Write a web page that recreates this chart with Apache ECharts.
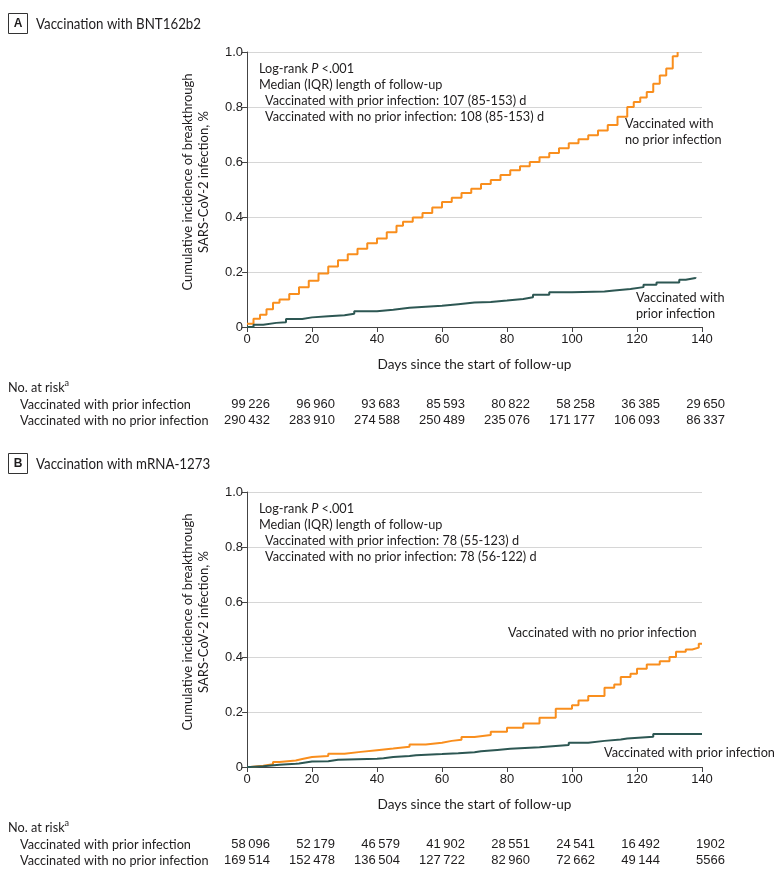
<!DOCTYPE html>
<html>
<head>
<meta charset="utf-8">
<script src="https://cdn.jsdelivr.net/npm/echarts@6/dist/echarts.min.js"></script>
<style>
html,body{margin:0;padding:0;background:#fff;}
#chart{width:780px;height:870px;}
</style>
</head>
<body>
<div id="chart"></div>
<script>
// ---------- DATA ----------
const xTicks = [0, 20, 40, 60, 80, 100, 120, 140];

// Panel A: BNT162b2 (day, cumulative incidence %)
const bntNoPrior = [[0,0.012],[2,0.03],[4,0.045],[6,0.065],[8,0.088],[10,0.1],[13,0.12],[16,0.145],[19,0.168],[22,0.195],[25,0.22],[28,0.243],[31,0.265],[34,0.285],[37,0.305],[40,0.322],[43,0.345],[46,0.368],[48,0.383],[51,0.398],[54,0.415],[57,0.435],[60,0.455],[63,0.47],[66,0.487],[69,0.503],[72,0.52],[75,0.535],[78,0.553],[81,0.57],[84,0.585],[87,0.6],[90,0.617],[93,0.633],[96,0.65],[99,0.668],[102,0.683],[105,0.697],[108,0.715],[111,0.735],[114,0.765],[117,0.8],[119,0.818],[121,0.835],[123,0.855],[125,0.885],[127,0.915],[129,0.94],[131,0.985],[132.5,1.0]];
const bntPrior = [[0,0],[2,0.008],[5,0.015],[9,0.017],[12,0.029],[17,0.035],[20,0.039],[25,0.043],[30,0.048],[33,0.057],[40,0.063],[45,0.07],[50,0.077],[60,0.083],[65,0.089],[70,0.091],[75,0.096],[80,0.102],[85,0.108],[88,0.117],[93,0.126],[100,0.129],[110,0.133],[113,0.138],[118,0.145],[122,0.154],[126,0.162],[133,0.172],[135,0.178],[138,0.181]];

// Panel B: mRNA-1273
const mrnaNoPrior = [[0,0],[1,0.005],[5,0.01],[8,0.018],[10,0.024],[15,0.029],[17,0.036],[20,0.04],[25,0.048],[30,0.055],[35,0.061],[40,0.067],[45,0.074],[50,0.082],[55,0.088],[60,0.095],[63,0.099],[66,0.109],[70,0.116],[75,0.128],[80,0.143],[85,0.158],[90,0.179],[95,0.212],[100,0.225],[102,0.242],[105,0.258],[110,0.288],[113,0.3],[115,0.327],[118,0.339],[120,0.357],[123,0.373],[127,0.385],[130,0.4],[132,0.419],[135,0.427],[137,0.434],[139,0.448],[140,0.448]];
const mrnaPrior = [[0,0],[1,0.003],[5,0.008],[10,0.012],[15,0.013],[16,0.02],[20,0.021],[25,0.026],[28,0.03],[40,0.032],[42,0.036],[45,0.04],[50,0.043],[52,0.047],[60,0.05],[65,0.054],[70,0.057],[72,0.062],[77,0.066],[81,0.072],[90,0.074],[92,0.08],[99,0.088],[105,0.095],[110,0.1],[115,0.104],[117,0.11],[125,0.12],[140,0.12]];

// Numbers at risk
const riskA_prior   = [99226, 96960, 93683, 85593, 80822, 58258, 36385, 29650];
const riskA_noPrior = [290432, 283910, 274588, 250489, 235076, 171177, 106093, 86337];
const riskB_prior   = [58096, 52179, 46579, 41902, 28551, 24541, 16492, 1902];
const riskB_noPrior = [169514, 152478, 136504, 127722, 82960, 72662, 49144, 5566];

const panelTitles = ['Vaccination with BNT162b2', 'Vaccination with mRNA-1273'];
const panelLetters = ['A', 'B'];
const followUp = [
  ['Vaccinated with prior infection: 107 (85-153) d', 'Vaccinated with no prior infection: 108 (85-153) d'],
  ['Vaccinated with prior infection: 78 (55-123) d', 'Vaccinated with no prior infection: 78 (56-122) d']
];
const rowLabels = ['Vaccinated with prior infection', 'Vaccinated with no prior infection'];
const yTitleLines = ['Cumulative incidence of breakthrough', 'SARS-CoV-2 infection, %'];
const xTitle = 'Days since the start of follow-up';

// ---------- STYLE ----------
const ORANGE = '#F98E1D';
const GREEN = '#2D5753';
const TXT = '#1e1c1d';
const FONT = 'Lato, "Liberation Sans", sans-serif';
const REG = '"Liberation Sans", Arial, sans-serif';

// horizontal factors so the humanist font matches the original text widths
const mctx = document.createElement('canvas').getContext('2d');
function measure(font, s) { mctx.font = font; return mctx.measureText(s).width; }
const K14 = 279 / measure('14px ' + FONT, followUp[0][1]);
const K16 = 165 / measure('16px ' + FONT, panelTitles[0]);
const KX = 194 / measure('14px ' + FONT, xTitle);

const chart = echarts.init(document.getElementById('chart'), null, {renderer: 'canvas'});

const gridTops = [52, 492];
function xAxisCfg(i) {
  return {
    gridIndex: i, type: 'value', min: 0, max: 140, interval: 20,
    axisLine: {show: true, lineStyle: {color: '#444', width: 1}},
    axisTick: {show: true, length: 5, lineStyle: {color: '#444'}},
    axisLabel: {color: TXT, fontFamily: REG, fontSize: 13, margin: 6},
    splitLine: {show: false}
  };
}
function yAxisCfg(i) {
  return {
    gridIndex: i, type: 'value', min: 0, max: 1, interval: 0.2,
    axisLine: {show: true, lineStyle: {color: '#444', width: 1}},
    axisTick: {show: true, length: 5, lineStyle: {color: '#444'}},
    axisLabel: {color: TXT, fontFamily: REG, fontSize: 13, margin: 4,
      formatter: v => v === 0 ? '0' : v.toFixed(1)},
    splitLine: {show: true, lineStyle: {color: '#d6d6d6', width: 1}}
  };
}
function lineSeries(data, color, i) {
  return {type: 'line', step: 'end', data: data, xAxisIndex: i, yAxisIndex: i,
    showSymbol: false, symbol: 'none', lineStyle: {color: color, width: 2}, itemStyle: {color: color},
    clip: true, z: color === ORANGE ? 3 : 4};
}

chart.setOption({
  animation: false,
  backgroundColor: '#fff',
  grid: gridTops.map(t => ({left: 247, top: t, width: 455, height: 275, containLabel: false})),
  xAxis: [xAxisCfg(0), xAxisCfg(1)],
  yAxis: [yAxisCfg(0), yAxisCfg(1)],
  series: [
    lineSeries(bntNoPrior, ORANGE, 0),
    lineSeries(bntPrior, GREEN, 0),
    lineSeries(mrnaNoPrior, ORANGE, 1),
    lineSeries(mrnaPrior, GREEN, 1)
  ]
});

function fmt(n) {
  const s = String(n);
  return s.length >= 5 ? s.slice(0, s.length - 3) + '\u2009' + s.slice(s.length - 3) : s;
}

const graphics = [];
function txt(x, y, text, opt, extra) {
  opt = opt || {};
  graphics.push(Object.assign({type: 'text', x: x, y: y, silent: true, scaleX: K14,
    style: Object.assign({text: text, fill: TXT, font: '14px ' + FONT, textAlign: 'left', textVerticalAlign: 'middle'}, opt)}, extra || {}));
}

const riskTables = [[riskA_prior, riskA_noPrior], [riskB_prior, riskB_noPrior]];
const curveLabels = [
  [{x: 625, y: 123, t: 'Vaccinated with'}, {x: 625, y: 139, t: 'no prior infection'}, {x: 636, y: 297, t: 'Vaccinated with'}, {x: 636, y: 313, t: 'prior infection'}],
  [{x: 508, y: 632, t: 'Vaccinated with no prior infection'}, {x: 604, y: 752, t: 'Vaccinated with prior infection'}]
];

[0, 1].forEach(p => {
  const off = p === 0 ? 0 : 440;
  // panel letter box + title
  graphics.push({type: 'rect', shape: {x: 8.5, y: 13.5 + off, width: 19, height: 20}, silent: true,
    style: {fill: 'none', stroke: '#333', lineWidth: 1}});
  txt(18, 24 + off, panelLetters[p], {font: 'bold 12px ' + REG, textAlign: 'center'}, {scaleX: 1});
  txt(36, 24 + off, panelTitles[p], {font: '16px ' + FONT}, {scaleX: K16});
  // axis titles
  txt(474.5, 364 + off, xTitle, {textAlign: 'center'}, {scaleX: KX});
  txt(188, 182 + off, yTitleLines[0], {textAlign: 'center', font: '13px ' + FONT}, {rotation: Math.PI / 2, scaleX: 1});
  txt(203.5, 182 + off, yTitleLines[1], {textAlign: 'center', font: '13px ' + FONT}, {rotation: Math.PI / 2, scaleX: 1});
  // annotations
  graphics.push({type: 'text', x: 259, y: 68 + off, silent: true, scaleX: K14, style: {
    rich: {n: {font: '14px ' + FONT, fill: TXT}, i: {font: 'italic 14px ' + FONT, fill: TXT}},
    text: '{n|Log-rank }{i|P}{n| <.001}', textVerticalAlign: 'middle'}});
  txt(259, 84 + off, 'Median (IQR) length of follow-up');
  txt(265, 100 + off, followUp[p][0]);
  txt(265, 116 + off, followUp[p][1]);
  // curve labels
  curveLabels[p].forEach(l => txt(l.x, l.y, l.t));
  // risk table
  txt(8, 387 + off, 'No. at risk');
  txt(64.5, 383 + off, 'a', {font: '10px ' + FONT});
  txt(20, 404 + off, rowLabels[0]);
  txt(20, 420 + off, rowLabels[1]);
  xTicks.forEach((d, k) => {
    const px = chart.convertToPixel({xAxisIndex: p}, d);
    txt(px + 23, 404 + off, fmt(riskTables[p][0][k]), {font: '13px ' + REG, textAlign: 'right'}, {scaleX: 1});
    txt(px + 23, 420 + off, fmt(riskTables[p][1][k]), {font: '13px ' + REG, textAlign: 'right'}, {scaleX: 1});
  });
});

chart.setOption({graphic: {elements: graphics}});
</script>
</body>
</html>
